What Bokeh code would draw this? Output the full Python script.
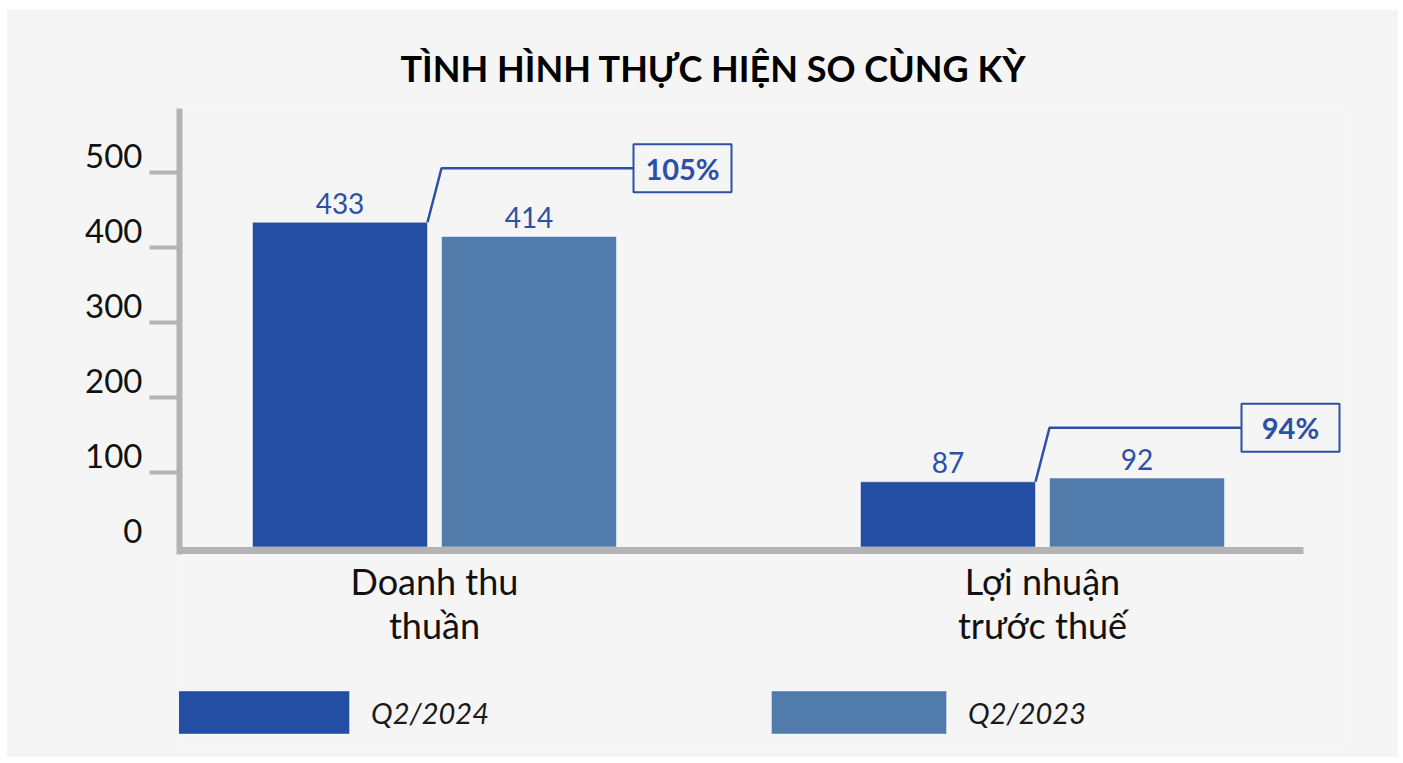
from bokeh.plotting import figure
from bokeh.models import (ColumnDataSource, FixedTicker, Legend, LegendItem, Title, Range1d,
                          LinearAxis, CustomJSTickFormatter)
from bokeh.core.properties import value
from bokeh.transform import dodge
from bokeh.embed import file_html
from bokeh.resources import INLINE

# ---- data ----
categories = ["Doanh thu\nthuần", "Lợi nhuận\ntrước thuế"]
series_names = ["Q2/2024", "Q2/2023"]
q2_2024 = [433, 87]
q2_2023 = [414, 92]
growth_labels = ["105%", "94%"]
y_ticks = [0, 100, 200, 300, 400, 500]
title_text = "TÌNH HÌNH THỰC HIỆN SO CÙNG KỲ"

# ---- style ----
DARK = "#244ea3"
LIGHT = "#507baa"
TEXT_BLUE = "#2b50a6"
BG = "#f5f5f5"
AXIS = "#b3b3b3"
FONT = "Lato"

W, H = 1392, 748
PX_X = 608.0   # pixels per category unit
PX_Y = 0.75    # pixels per value unit
FRAME_W, FRAME_H = 1171, 642
ZERO_FROM_BOTTOM = 203.5
OFF = 94.5 / PX_X
BW = 175 / PX_X

x_start = -255 / PX_X
x_axis_end = 869 / PX_X
y_start = -ZERO_FROM_BOTTOM / PX_Y
y_end = y_start + FRAME_H / PX_Y
base_line = -3.5 / PX_Y
LABEL_SHIFT = 16 / PX_Y

p = figure(width=W, height=H, output_backend="svg", toolbar_location=None,
           x_range=Range1d(x_start, x_start + FRAME_W / PX_X),
           y_range=Range1d(y_start, y_end),
           min_border_left=173, min_border_right=48,
           min_border_top=99, min_border_bottom=7)
p.margin = (9, 5, 6, 6)
p.background_fill_color = BG
p.border_fill_color = BG
p.outline_line_color = None
p.grid.visible = False

xs = list(range(len(categories)))
src = ColumnDataSource(dict(
    x=xs, a=q2_2024, b=q2_2023,
    la=[str(v) for v in q2_2024], lb=[str(v) for v in q2_2023],
    ya=[v + 19 / PX_Y for v in q2_2024], yb=[v + 19 / PX_Y for v in q2_2023]))

r1 = p.vbar(x=dodge("x", -OFF), top="a", width=BW, bottom=0, source=src,
            fill_color=DARK, line_color="#ffffff", line_alpha=0.5, line_width=1)
r2 = p.vbar(x=dodge("x", OFF), top="b", width=BW, bottom=0, source=src,
            fill_color=LIGHT, line_color="#ffffff", line_alpha=0.5, line_width=1)

for ycol, lab, off in (("ya", "la", -OFF), ("yb", "lb", OFF)):
    p.text(x=dodge("x", off), y=ycol, text=lab, source=src,
           text_align="center", text_baseline="middle",
           text_font=value(FONT), text_font_size="28px", text_color=TEXT_BLUE)

# callouts (relative to the Q2/2024 bar tops)
bar_right = [x - OFF + BW / 2 for x in xs]
elbow_x = [b + 14 / PX_X for b in bar_right]
elbow_y = [v + 54 / PX_Y for v in q2_2024]
box_left = [e + 192 / PX_X for e in elbow_x]
box_cx = [b + 49 / PX_X for b in box_left]
p.multi_line(xs=[[b, e, bl] for b, e, bl in zip(bar_right, elbow_x, box_left)],
             ys=[[v, ey, ey] for v, ey in zip(q2_2024, elbow_y)],
             line_color=TEXT_BLUE, line_width=2.5)
p.rect(x=box_cx, y=elbow_y, width=98, height=48, width_units="screen", height_units="screen",
       fill_color=BG, line_color=TEXT_BLUE, line_width=2)
p.text(x=box_cx, y=elbow_y, text=growth_labels, text_align="center", text_baseline="middle",
       text_font=value(FONT), text_font_style="bold", text_font_size="29px", text_color=TEXT_BLUE)

# y axis: line + tick marks (no labels)
ya = p.yaxis[0]
ya.ticker = FixedTicker(ticks=[t for t in y_ticks if t > 0])
ya.formatter = CustomJSTickFormatter(code="return ''")
ya.bounds = (2 * base_line, y_end)
ya.axis_line_color = AXIS
ya.axis_line_width = 6
ya.major_tick_line_color = AXIS
ya.major_tick_line_width = 4
ya.major_tick_out = 30
ya.major_tick_in = 0
ya.minor_tick_line_color = None
ya.major_label_standoff = 0

# y axis labels, sitting just above their tick marks
yl = LinearAxis(ticker=FixedTicker(ticks=[t + LABEL_SHIFT for t in y_ticks]),
                formatter=CustomJSTickFormatter(args=dict(d=LABEL_SHIFT),
                                                code="return String(Math.round(tick - d))"),
                axis_line_color=None, major_tick_line_color=None, minor_tick_line_color=None,
                major_label_standoff=1, major_label_text_font=FONT,
                major_label_text_font_size="33px", major_label_text_color="#111111")
p.add_layout(yl, "left")

# x axis drawn at the bar baseline
xa = p.xaxis[0]
xa.fixed_location = base_line
xa.ticker = FixedTicker(ticks=xs)
xa.bounds = (x_start, x_axis_end)
xa.major_label_overrides = {i: c for i, c in zip(xs, categories)}
xa.axis_line_color = AXIS
xa.axis_line_width = 7
xa.major_tick_line_color = None
xa.minor_tick_line_color = None
xa.major_label_standoff = 2
xa.major_label_text_font = FONT
xa.major_label_text_font_size = "36px"
xa.major_label_text_line_height = 1.0
xa.major_label_text_color = "#111111"

# title
p.title = Title(text=title_text, align="left", offset=221, standoff=38,
                text_font=FONT, text_font_size="36px", text_font_style="bold",
                text_color="#000000")

legend = Legend(items=[LegendItem(label=series_names[0], renderers=[r1]),
                       LegendItem(label=series_names[1], renderers=[r2])],
                orientation="horizontal", location=(-26.9, 10.6),
                glyph_width=219, glyph_height=54, label_width=378, label_standoff=0,
                spacing=0, padding=0, margin=0,
                background_fill_alpha=0, border_line_color=None,
                label_text_font=FONT, label_text_font_style="italic",
                label_text_font_size="29px", label_text_color="#1a1a1a")
p.add_layout(legend)

open("out.html", "w").write(file_html(p, INLINE))
